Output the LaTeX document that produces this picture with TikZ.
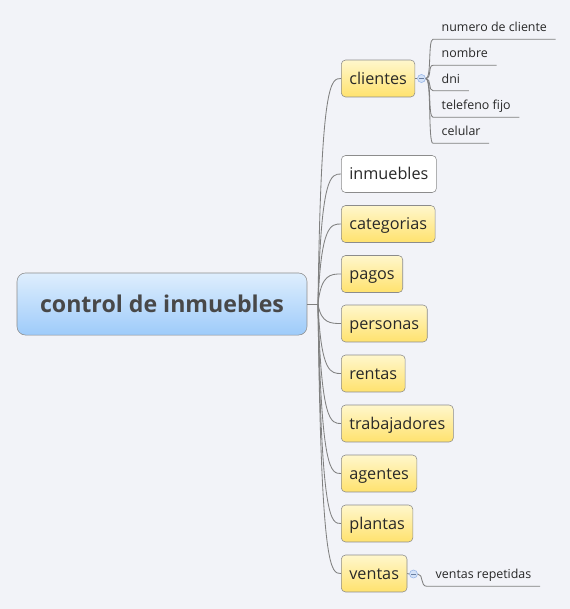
\documentclass[tikz,border=0pt]{standalone}
\usepackage{fontspec}
\setmainfont{Open Sans}
\usetikzlibrary{calc}
\definecolor{bgcol}{RGB}{242,243,248}
\definecolor{linecol}{RGB}{128,128,128}
\definecolor{boxline}{RGB}{140,140,140}
\definecolor{yelltop}{RGB}{255,247,204}
\definecolor{yellbot}{RGB}{255,226,110}
\definecolor{bluetop}{RGB}{222,238,253}
\definecolor{bluebot}{RGB}{158,203,250}
\definecolor{txtcol}{RGB}{40,40,40}
\definecolor{roottxt}{RGB}{72,72,72}
\definecolor{knobfill}{RGB}{212,226,247}
\definecolor{knobline}{RGB}{150,180,230}

\tikzset{
  conn/.style={draw=linecol, line width=0.6pt},
  topicbox/.style={draw=boxline, rounded corners=3pt, anchor=west,
    minimum height=26.2pt, inner xsep=5.7pt, text=txtcol,
    text height=8.5pt, text depth=0pt, font=\fontsize{11.5}{13}\selectfont},
  yellowbox/.style={topicbox, top color=yelltop, bottom color=yellbot},
  whitebox/.style={topicbox, fill=white},
  subtopic/.style={anchor=south west, inner xsep=6pt, inner ysep=3pt,
    text=txtcol, text height=6.5pt, text depth=2pt,
    font=\fontsize{8.8}{10}\selectfont},
  knob/.style={circle, draw=knobline, fill=knobfill, minimum size=5.7pt,
    inner sep=0pt},
}

\begin{document}
\begin{tikzpicture}[x=0.709pt,y=-0.709pt]
\fill[bgcol] (0,0) rectangle (570,609);

% central topic
\node[draw=boxline, rounded corners=6pt, top color=bluetop, bottom color=bluebot,
  minimum width=205.6pt, minimum height=44pt, text=roottxt,
  text height=12pt, text depth=0pt,
  font=\fontsize{16.4}{19}\selectfont\bfseries] (root) at (162,304) {control de inmuebles};
\coordinate (hub) at (318,304);
\draw[conn] (root.east) -- (hub);

% main topics
\foreach \name/\yc in {clientes/78.5, categorias/224, pagos/274, personas/323.5,
  rentas/373.5, trabajadores/423.5, agentes/473.5, plantas/523.5, ventas/573.5}
  \node[yellowbox] (\name) at (341,\yc) {\name};
\node[whitebox] (inmuebles) at (341,174) {inmuebles};

\foreach \name in {clientes,inmuebles,categorias,pagos,personas,rentas,
  trabajadores,agentes,plantas,ventas}
  \draw[conn] (hub) .. controls ($(hub |- \name.west)+(3,0)$)
    and ($(\name.west)+(-10,0)$) .. (\name.west);

% clientes subtopics
\node[knob] (clientes-k) at (421.5,78.5) {};
\draw[conn] (clientes.east) -- (clientes-k.west);
\draw[knobline!70!black, line width=0.5pt] ([xshift=-1.6pt]clientes-k.center) -- ([xshift=1.6pt]clientes-k.center);
\foreach \name/\txt/\yb in {numcli/numero de cliente/39.3, nombre/nombre/65.3,
  dni/dni/90.7, telfijo/telefeno fijo/117.3, celular/celular/143.3}
{
  \node[subtopic] (\name) at (433,\yb) {\txt};
  \draw[conn] (clientes-k.east) .. controls ($(clientes-k.east)+(6,0)$)
    and ($(clientes-k.east |- \name.south west)+(2,0)$) .. (\name.south west)
    -- (\name.south east);
}

% ventas subtopic
\node[knob] (ventas-k) at (413.5,574) {};
\draw[conn] (ventas.east) -- (ventas-k.west);
\draw[knobline!70!black, line width=0.5pt] ([xshift=-1.6pt]ventas-k.center) -- ([xshift=1.6pt]ventas-k.center);
\node[subtopic] (ventrep) at (427,586.3) {ventas repetidas};
\draw[conn] (ventas-k.east) .. controls ($(ventas-k.east)+(6,0)$)
  and ($(ventas-k.east |- ventrep.south west)+(2,0)$) .. (ventrep.south west)
  -- (ventrep.south east);
\end{tikzpicture}
\end{document}
